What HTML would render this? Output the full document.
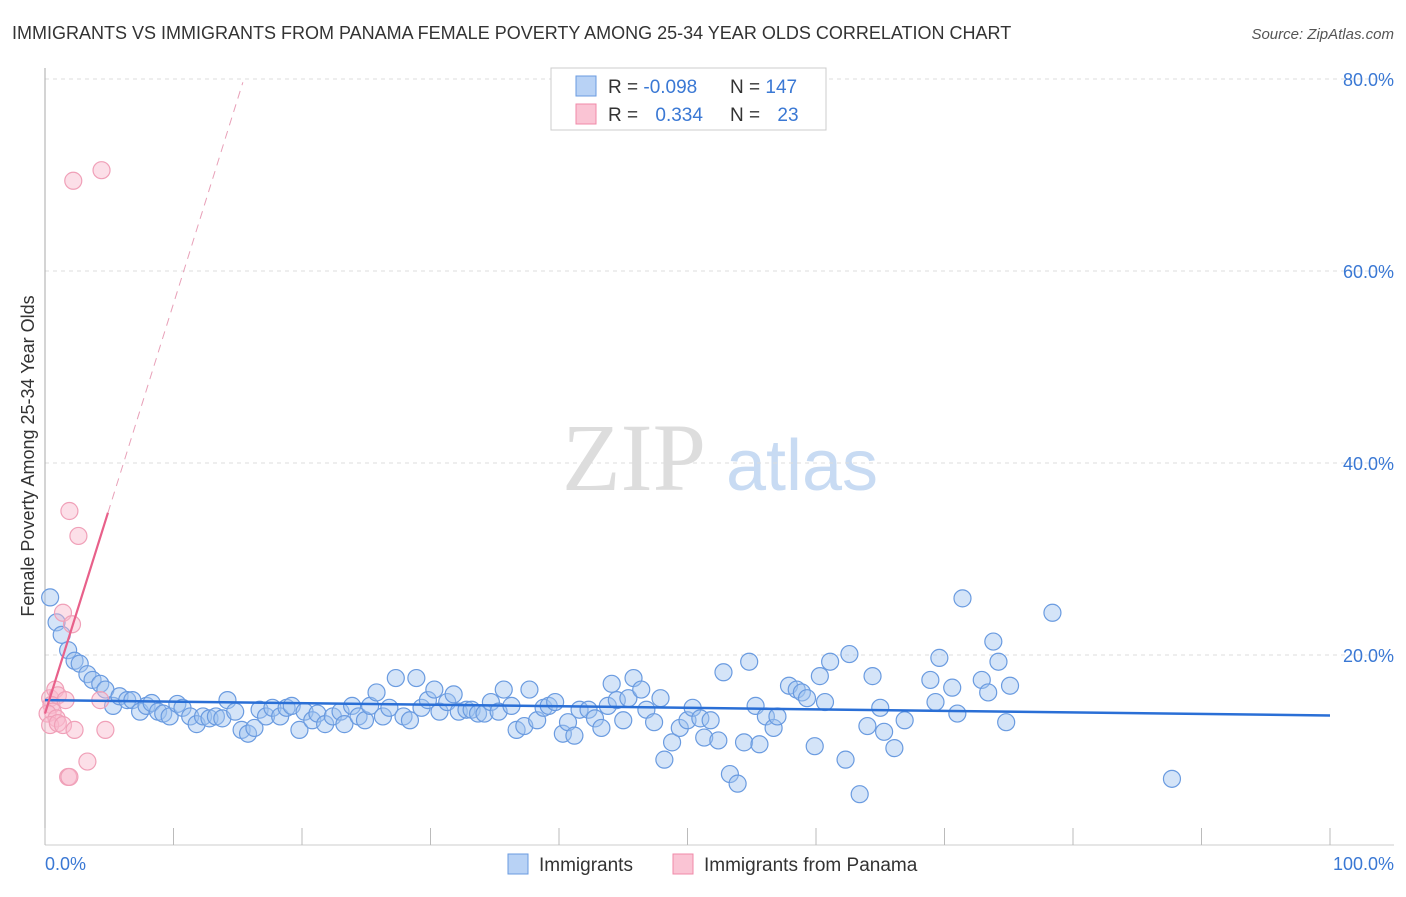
<!DOCTYPE html>
<html><head><meta charset="utf-8"><style>
body{margin:0;background:#fff;font-family:"Liberation Sans",sans-serif}
svg text{font-family:"Liberation Sans",sans-serif}
</style></head><body>
<svg id="chart" width="1406" height="892" viewBox="0 0 1406 892">
<text x="12" y="39" font-size="18" fill="#333">IMMIGRANTS VS IMMIGRANTS FROM PANAMA FEMALE POVERTY AMONG 25-34 YEAR OLDS CORRELATION CHART</text>
<text x="1394" y="39" font-size="15" fill="#555" font-style="italic" text-anchor="end">Source: ZipAtlas.com</text>
<g>
<text x="634" y="490" font-size="96" fill="#ddd" text-anchor="middle" font-family="Liberation Serif" style="font-family:'Liberation Serif',serif">ZIP</text>
<text x="802" y="490" font-size="72" fill="#c8dbf3" text-anchor="middle">atlas</text>
</g>
<g id="grid"></g>
<g id="axes"></g>
<g id="pts"></g>
<g id="lines"></g>
<text transform="translate(34,456) rotate(-90)" font-size="18" fill="#333" text-anchor="middle">Female Poverty Among 25-34 Year Olds</text>
<text x="45" y="870" font-size="18" fill="#3a78d4">0.0%</text>
<text x="1394" y="870" font-size="18" fill="#3a78d4" text-anchor="end">100.0%</text>
<g>
<rect x="551" y="68" width="275" height="62" fill="#fff" stroke="#ccc"/>
<rect x="576" y="76" width="20" height="20" fill="#b8d2f5" stroke="#6a9be0"/>
<rect x="576" y="104" width="20" height="20" fill="#fac4d4" stroke="#f08aa8"/>
<text x="608" y="93" font-size="19" fill="#333">R = <tspan fill="#3a78d4">-0.098</tspan></text>
<text x="730" y="93" font-size="19" fill="#333">N = <tspan fill="#3a78d4">147</tspan></text>
<text x="608" y="121" font-size="19" fill="#333">R = <tspan fill="#3a78d4" dx="12">0.334</tspan></text>
<text x="730" y="121" font-size="19" fill="#333">N = <tspan fill="#3a78d4" dx="12">23</tspan></text>
</g>
<g>
<rect x="508" y="854" width="20" height="20" fill="#b8d2f5" stroke="#6a9be0"/>
<text x="539" y="871" font-size="19" fill="#333">Immigrants</text>
<rect x="673" y="854" width="20" height="20" fill="#fac4d4" stroke="#f08aa8"/>
<text x="704" y="871" font-size="19" fill="#333">Immigrants from Panama</text>
</g>
</svg>
<script>
const yTicks=[20,40,60,80];
const yTickLabels=["20.0%","40.0%","60.0%","80.0%"];
const xTicks=[0,10,20,30,40,50,60,70,80,90,100];
const blueX=[0.4,0.9,1.3,1.8,2.3,2.7,3.3,3.7,4.3,4.7,5.3,5.8,6.4,6.8,7.4,7.9,8.3,8.8,9.2,9.7,10.3,10.7,11.3,11.8,12.3,12.8,13.3,13.8,14.2,14.8,15.3,15.8,16.3,16.7,17.2,17.7,18.3,18.8,19.2,19.8,20.2,20.8,21.2,21.8,22.4,23.0,23.3,23.9,24.4,24.9,25.3,25.8,26.3,26.8,27.3,27.9,28.4,28.9,29.3,29.8,30.3,30.7,31.3,31.8,32.2,32.8,33.2,33.7,34.2,34.7,35.3,35.7,36.3,36.7,37.3,37.7,38.3,38.8,39.2,39.7,40.3,40.7,41.2,41.6,42.3,42.8,43.3,43.8,44.1,44.5,45.0,45.4,45.8,46.4,46.8,47.4,47.9,48.2,48.8,49.4,50.0,50.4,51.0,51.3,51.8,52.4,52.8,53.3,53.9,54.4,54.8,55.3,55.6,56.1,56.7,57.0,57.9,58.5,58.9,59.3,59.9,60.3,60.7,61.1,62.3,62.6,63.4,64.0,64.4,65.0,65.3,66.1,66.9,68.9,69.3,69.6,70.6,71.0,71.4,72.9,73.4,73.8,74.2,75.1,74.8,78.4,87.7];
const blueY=[26.0,23.4,22.1,20.5,19.4,19.1,18.0,17.4,17.0,16.4,14.7,15.7,15.3,15.3,14.1,14.7,15.0,14.1,13.9,13.6,14.9,14.5,13.6,12.8,13.6,13.4,13.6,13.4,15.3,14.1,12.2,11.8,12.4,14.3,13.6,14.5,13.6,14.5,14.7,12.2,14.1,13.2,13.9,12.8,13.6,14.1,12.8,14.7,13.6,13.2,14.7,16.1,13.6,14.5,17.6,13.6,13.2,17.6,14.5,15.3,16.4,14.1,15.1,15.9,14.1,14.3,14.3,13.9,13.9,15.1,14.1,16.4,14.7,12.2,12.6,16.4,13.2,14.5,14.7,15.1,11.8,13.0,11.6,14.3,14.3,13.4,12.4,14.7,17.0,15.3,13.2,15.5,17.6,16.4,14.3,13.0,15.5,9.1,10.9,12.4,13.2,14.5,13.4,11.4,13.2,11.1,18.2,7.6,6.6,10.9,19.3,14.7,10.7,13.6,12.4,13.6,16.8,16.4,16.1,15.5,10.5,17.8,15.1,19.3,9.1,20.1,5.5,12.6,17.8,14.5,12.0,10.3,13.2,17.4,15.1,19.7,16.6,13.9,25.9,17.4,16.1,21.4,19.3,16.8,13.0,24.4,7.1];
const pinkX=[2.2,4.4,1.9,2.6,1.4,2.1,0.4,0.8,1.0,0.5,0.6,0.2,0.9,0.4,1.0,1.4,2.3,4.7,4.3,1.8,3.3,1.6,1.9];
const pinkY=[69.4,70.5,35.0,32.4,24.4,23.2,15.5,16.4,15.8,14.8,14.1,13.9,13.4,12.7,12.9,12.7,12.2,12.2,15.3,7.3,8.9,15.3,7.3];
const blueTrend=[15.3,13.7];
const pinkTrend=[13.9,4.27];
const pinkSolidEnd=4.9, pinkDashEnd=15.4;
const X0=45,X1=1330,Y0=847,PY=9.6;
const sx=v=>X0+(X1-X0)*v/100, sy=v=>Y0-PY*v;
const NS="http://www.w3.org/2000/svg";
function mk(tag,attrs,parent){const e=document.createElementNS(NS,tag);for(const k in attrs)e.setAttribute(k,attrs[k]);document.getElementById(parent).appendChild(e);return e;}
yTicks.forEach((t,i)=>{
 const l=mk('line',{x1:45,x2:1394,y1:sy(t),y2:sy(t),stroke:'#ddd','stroke-dasharray':'4,4'},'grid');
 
 
 const tx=mk('text',{x:1394,y:sy(t)+7,'font-size':18,fill:'#3a78d4','text-anchor':'end'},'grid');
 tx.textContent=yTickLabels[i];
 
 
});
const ax=mk('line',{x1:45,x2:45,y1:68,y2:845,stroke:'#aaa'},'axes');


const bx=mk('line',{x1:45,x2:1394,y1:845,y2:845,stroke:'#ccc'},'axes');


xTicks.forEach(t=>{
 const l=mk('line',{x1:sx(t),x2:sx(t),y1:828,y2:845,stroke:'#bbb'},'axes');
 
 
});
blueX.forEach((x,i)=>{
 const c=mk('circle',{cx:sx(x),cy:sy(blueY[i]),r:8.5,fill:'rgba(160,196,240,0.45)',stroke:'#6a9be0','stroke-width':1.2},'pts');
 
 
});
pinkX.forEach((x,i)=>{
 const c=mk('circle',{cx:sx(x),cy:sy(pinkY[i]),r:8.5,fill:'rgba(248,185,205,0.45)',stroke:'#f0a0b8','stroke-width':1.2},'pts');
 
 
});
const bl=mk('line',{x1:sx(0),y1:sy(blueTrend[0]),x2:sx(100),y2:sy(blueTrend[1]),stroke:'#2a6fd6','stroke-width':2.5},'lines');


const pl=mk('line',{x1:sx(0),y1:sy(pinkTrend[0]),x2:sx(pinkSolidEnd),y2:sy(pinkTrend[0]+pinkTrend[1]*pinkSolidEnd),stroke:'#e8608a','stroke-width':2.2},'lines');


const pd=mk('line',{x1:sx(pinkSolidEnd),y1:sy(pinkTrend[0]+pinkTrend[1]*pinkSolidEnd),x2:sx(pinkDashEnd),y2:sy(pinkTrend[0]+pinkTrend[1]*pinkDashEnd),stroke:'#e8a0b8','stroke-width':1,'stroke-dasharray':'8,6'},'lines');


</script>
</body></html>
